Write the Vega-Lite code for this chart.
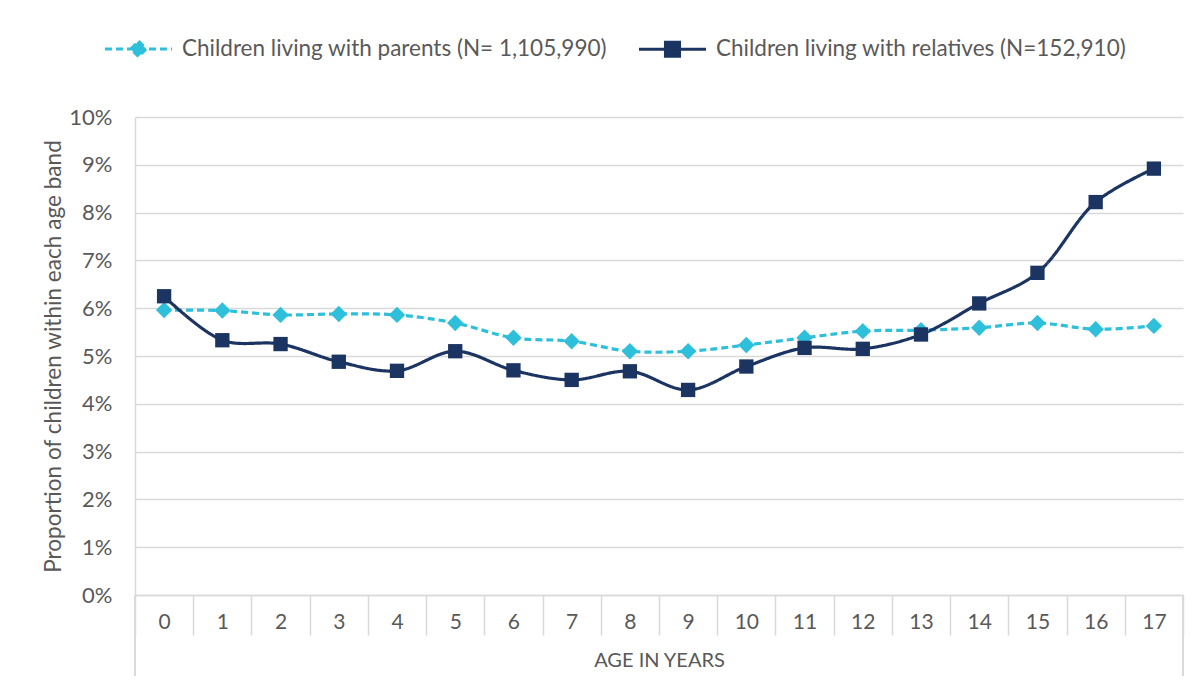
{
  "$schema": "https://vega.github.io/schema/vega-lite/v6.json",
  "width": 1048,
  "height": 478,
  "autosize": {"type": "none"},
  "padding": {"left": 135, "top": 117, "right": 20, "bottom": 103},
  "background": "white",
  "config": {"font": "Lato", "view": {"stroke": null}},
  "data": {"values": [
    {"age": 0, "series": "Children living with parents (N= 1,105,990)", "value": 0.0596},
    {"age": 1, "series": "Children living with parents (N= 1,105,990)", "value": 0.0595},
    {"age": 2, "series": "Children living with parents (N= 1,105,990)", "value": 0.0586},
    {"age": 3, "series": "Children living with parents (N= 1,105,990)", "value": 0.0588},
    {"age": 4, "series": "Children living with parents (N= 1,105,990)", "value": 0.0586},
    {"age": 5, "series": "Children living with parents (N= 1,105,990)", "value": 0.0569},
    {"age": 6, "series": "Children living with parents (N= 1,105,990)", "value": 0.0538},
    {"age": 7, "series": "Children living with parents (N= 1,105,990)", "value": 0.0531},
    {"age": 8, "series": "Children living with parents (N= 1,105,990)", "value": 0.0510},
    {"age": 9, "series": "Children living with parents (N= 1,105,990)", "value": 0.0510},
    {"age": 10, "series": "Children living with parents (N= 1,105,990)", "value": 0.0523},
    {"age": 11, "series": "Children living with parents (N= 1,105,990)", "value": 0.0538},
    {"age": 12, "series": "Children living with parents (N= 1,105,990)", "value": 0.0552},
    {"age": 13, "series": "Children living with parents (N= 1,105,990)", "value": 0.0554},
    {"age": 14, "series": "Children living with parents (N= 1,105,990)", "value": 0.0559},
    {"age": 15, "series": "Children living with parents (N= 1,105,990)", "value": 0.0569},
    {"age": 16, "series": "Children living with parents (N= 1,105,990)", "value": 0.0556},
    {"age": 17, "series": "Children living with parents (N= 1,105,990)", "value": 0.0563},
    {"age": 0, "series": "Children living with relatives (N=152,910)", "value": 0.0625},
    {"age": 1, "series": "Children living with relatives (N=152,910)", "value": 0.0533},
    {"age": 2, "series": "Children living with relatives (N=152,910)", "value": 0.0525},
    {"age": 3, "series": "Children living with relatives (N=152,910)", "value": 0.0488},
    {"age": 4, "series": "Children living with relatives (N=152,910)", "value": 0.0469},
    {"age": 5, "series": "Children living with relatives (N=152,910)", "value": 0.0510},
    {"age": 6, "series": "Children living with relatives (N=152,910)", "value": 0.0470},
    {"age": 7, "series": "Children living with relatives (N=152,910)", "value": 0.0450},
    {"age": 8, "series": "Children living with relatives (N=152,910)", "value": 0.0468},
    {"age": 9, "series": "Children living with relatives (N=152,910)", "value": 0.0429},
    {"age": 10, "series": "Children living with relatives (N=152,910)", "value": 0.0478},
    {"age": 11, "series": "Children living with relatives (N=152,910)", "value": 0.0517},
    {"age": 12, "series": "Children living with relatives (N=152,910)", "value": 0.0515},
    {"age": 13, "series": "Children living with relatives (N=152,910)", "value": 0.0545},
    {"age": 14, "series": "Children living with relatives (N=152,910)", "value": 0.0610},
    {"age": 15, "series": "Children living with relatives (N=152,910)", "value": 0.0674},
    {"age": 16, "series": "Children living with relatives (N=152,910)", "value": 0.0822},
    {"age": 17, "series": "Children living with relatives (N=152,910)", "value": 0.0892}
  ]},
  "layer": [
    {
      "mark": {"type": "line", "interpolate": "catmull-rom", "strokeWidth": 3.2},
      "encoding": {
        "x": {
          "field": "age", "type": "ordinal", "bandPosition": 0.5,
          "scale": {"type": "band", "paddingInner": 0, "paddingOuter": 0},
          "axis": {
            "title": "AGE IN YEARS", "labelAngle": 0, "tickBand": "extent", "tickSize": 40,
            "tickColor": "#d9d9d9", "tickWidth": 1.5, "domainColor": "#d9d9d9", "domainWidth": 1.5,
            "labelFontSize": 21, "labelColor": "#595959", "labelPadding": -24,
            "titleFontSize": 20, "titleFontWeight": "normal", "titleColor": "#595959", "titlePadding": 15,
            "grid": false
          }
        },
        "y": {
          "field": "value", "type": "quantitative",
          "scale": {"domain": [0, 0.1]},
          "axis": {
            "values": [0, 0.01, 0.02, 0.03, 0.04, 0.05, 0.06, 0.07, 0.08, 0.09, 0.1],
            "format": ".0%", "title": "Proportion of children within each age band",
            "titleFontSize": 22.6, "titleFontWeight": "normal", "titleColor": "#595959", "titlePadding": 3,
            "labelColor": "#595959", "labelFontSize": 22, "labelPadding": 23, "ticks": false,
            "domainColor": "#d9d9d9", "domainWidth": 1.5, "gridColor": "#d9d9d9", "gridWidth": 1.5
          }
        },
        "color": {
          "field": "series", "type": "nominal",
          "scale": {"domain": ["Children living with parents (N= 1,105,990)", "Children living with relatives (N=152,910)"], "range": ["#2EBFDB", "#1B3461"]},
          "legend": {
            "orient": "none", "legendX": -32, "legendY": -104, "direction": "horizontal", "title": null,
            "labelFontSize": 22.5, "labelColor": "#595959", "labelOffset": 8, "columnPadding": 25, "labelLimit": 800,
            "symbolSize": 4500, "symbolStrokeWidth": 3,
            "encode": {"symbols": {"update": {
              "shape": {"signal": "datum.value === 'Children living with parents (N= 1,105,990)' ? 'M-1,0H1M0,-0.23L0.23,0L0,0.23L-0.23,0Z' : 'M-1,0H1M-0.21,-0.21H0.21V0.21H-0.21Z'"},
              "strokeDash": {"signal": "datum.value === 'Children living with parents (N= 1,105,990)' ? [7,4] : [1,0]"},
              "fill": {"signal": "datum.value === 'Children living with parents (N= 1,105,990)' ? '#2EBFDB' : '#1B3461'"},
              "stroke": {"signal": "datum.value === 'Children living with parents (N= 1,105,990)' ? '#2EBFDB' : '#1B3461'"},
              "fillOpacity": {"value": 1},
              "opacity": {"value": 1}
            }}}
          }
        },
        "strokeDash": {
          "field": "series", "type": "nominal",
          "scale": {"domain": ["Children living with parents (N= 1,105,990)", "Children living with relatives (N=152,910)"], "range": [[7, 4], [1, 0]]},
          "legend": null
        }
      }
    },
    {
      "mark": {"type": "point", "filled": true, "opacity": 1},
      "encoding": {
        "x": {"field": "age", "type": "ordinal", "bandPosition": 0.5},
        "y": {"field": "value", "type": "quantitative"},
        "color": {"field": "series", "type": "nominal"},
        "shape": {"condition": {"test": "datum.series === 'Children living with parents (N= 1,105,990)'", "value": "diamond"}, "value": "square"},
        "size": {"condition": {"test": "datum.series === 'Children living with parents (N= 1,105,990)'", "value": 270}, "value": 205}
      }
    },
    {
      "mark": {"type": "rule", "color": "#d9d9d9", "strokeWidth": 1.5},
      "encoding": {
        "x": {"datum": 0, "type": "ordinal", "bandPosition": 0},
        "y": {"datum": 0, "type": "quantitative"},
        "y2": {"datum": -0.0168}
      }
    },
    {
      "mark": {"type": "rule", "color": "#d9d9d9", "strokeWidth": 1.5},
      "encoding": {
        "x": {"datum": 17, "type": "ordinal", "bandPosition": 1},
        "y": {"datum": 0, "type": "quantitative"},
        "y2": {"datum": -0.0168}
      }
    }
  ]
}
